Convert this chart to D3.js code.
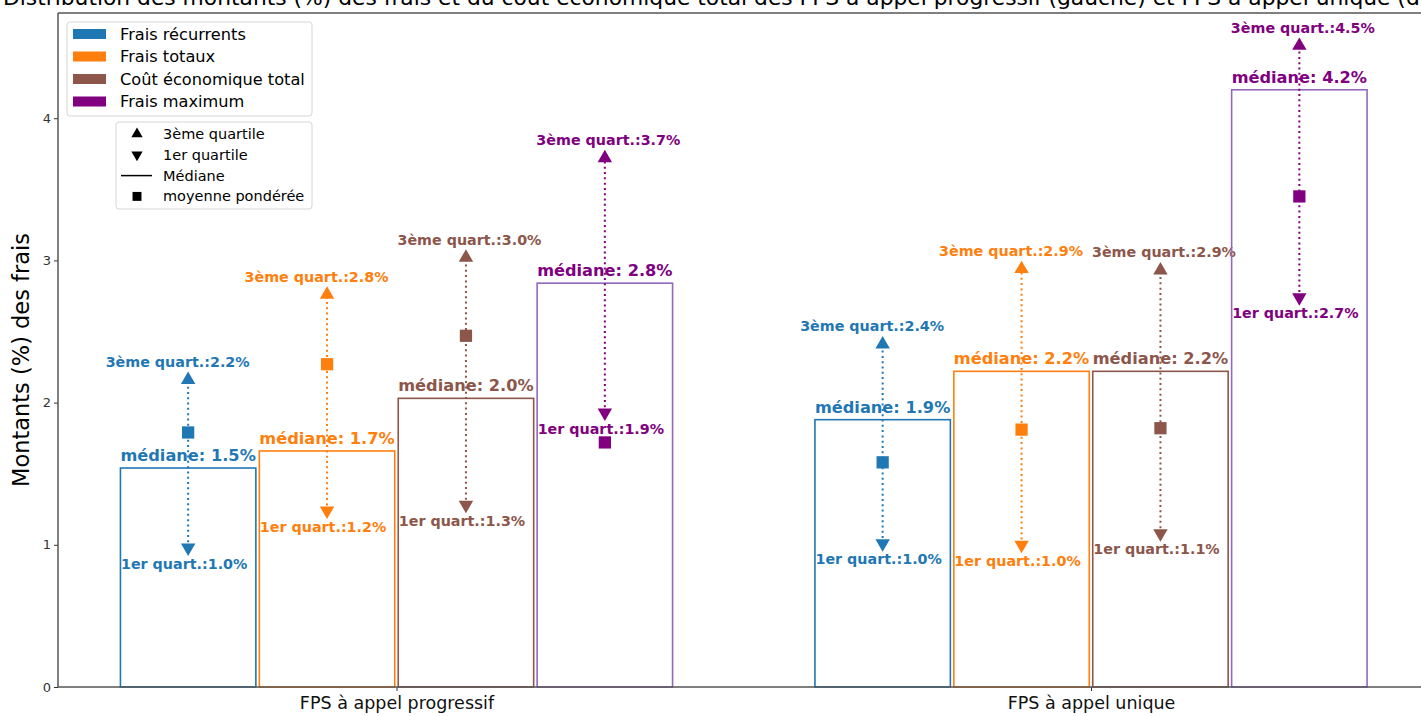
<!DOCTYPE html>
<html>
<head>
<meta charset="utf-8">
<script src="https://cdn.jsdelivr.net/npm/d3@7"></script>
<style>
  body { margin: 0; background: #fff; }
  svg { display: block; font-family: "DejaVu Sans", sans-serif; }
</style>
</head>
<body>
<script>
// data
var groups = ['FPS à appel progressif', 'FPS à appel unique'];
var series = ['Frais récurrents', 'Frais totaux', 'Coût économique total', 'Frais maximum'];
var colors = ['#1f77b4', '#ff7f0e', '#8c564b', '#800080'];
var edgeColors = ['#1f77b4', '#ff7f0e', '#8c564b', '#9467bd'];

// one array per series: [progressif, unique]
var medianes = [[1.54, 1.88], [1.66, 2.22], [2.03, 2.22], [2.84, 4.20]];
var q1 = [[0.98, 1.01], [1.24, 1.00], [1.28, 1.08], [1.93, 2.74]];
var q3 = [[2.16, 2.41], [2.76, 2.94], [3.02, 2.93], [3.72, 4.51]];
var moyennes = [[1.79, 1.58], [2.27, 1.81], [2.47, 1.82], [1.72, 3.45]];
var yTicks = [0, 1, 2, 3, 4];

var W = 1421, H = 716;
var svg = d3.select('body').append('svg').attr('width', W).attr('height', H);

var left = 58, topY = 13, bottom = 687;
var x = d3.scaleLinear().domain([0, 1]).range([396.5, 1091]);
var y = d3.scaleLinear().domain([0, 4.74]).range([bottom, topY]);
var step = 0.2, barW = 0.195;
// the 3rd quartile labels sit a bit left for the first two series
var q3Shift = [-10.5, -10.5, 3.5, 3.5];

// title (too wide for the page, gets cut like the original)
svg.append('text')
  .attr('x', 3).attr('y', 5)
  .attr('font-size', 21.8)
  .text('Distribution des montants (%) des frais et du coût économique total des FPS à appel progressif (gauche) et FPS à appel unique (droite)');

var g = svg.append('g');

series.forEach(function(s, i) {
  groups.forEach(function(gr, j) {
    var off = (i - 1.5) * step;
    var x0 = x(j + off - barW / 2), x1 = x(j + off + barW / 2);
    var cx = x(j + off);

    g.append('rect')
      .attr('x', x0).attr('y', y(medianes[i][j]))
      .attr('width', x1 - x0).attr('height', y(0) - y(medianes[i][j]))
      .attr('fill', 'none').attr('stroke', edgeColors[i]).attr('stroke-width', 1.6);

    g.append('text')
      .attr('x', cx).attr('y', y(medianes[i][j]) - 7)
      .attr('text-anchor', 'middle').attr('font-size', 16.2).attr('font-weight', 'bold')
      .attr('fill', colors[i])
      .text('médiane: ' + medianes[i][j].toFixed(1) + '%');

    g.append('line')
      .attr('x1', cx).attr('x2', cx)
      .attr('y1', y(q1[i][j])).attr('y2', y(q3[i][j]))
      .attr('stroke', colors[i]).attr('stroke-width', 2)
      .attr('stroke-dasharray', '2,3.3');

    g.append('path')
      .attr('transform', 'translate(' + cx + ',' + y(q3[i][j]) + ')')
      .attr('d', d3.symbol(d3.symbolTriangle, 90)())
      .attr('fill', colors[i]);

    g.append('path')
      .attr('transform', 'translate(' + cx + ',' + y(q1[i][j]) + ') rotate(180)')
      .attr('d', d3.symbol(d3.symbolTriangle, 90)())
      .attr('fill', colors[i]);

    g.append('path')
      .attr('transform', 'translate(' + cx + ',' + y(moyennes[i][j]) + ')')
      .attr('d', d3.symbol(d3.symbolSquare, 150)())
      .attr('fill', colors[i]);

    g.append('text')
      .attr('x', cx + q3Shift[i]).attr('y', y(q3[i][j]) - 13)
      .attr('text-anchor', 'middle').attr('font-size', 14.3).attr('font-weight', 'bold')
      .attr('fill', colors[i])
      .text('3ème quart.:' + q3[i][j].toFixed(1) + '%');

    g.append('text')
      .attr('x', cx - 4).attr('y', y(q1[i][j]) + 21)
      .attr('text-anchor', 'middle').attr('font-size', 14.3).attr('font-weight', 'bold')
      .attr('fill', colors[i])
      .text('1er quart.:' + q1[i][j].toFixed(1) + '%');
  });
});

// axes
var yAxis = svg.append('g')
  .attr('transform', 'translate(' + left + ',0)')
  .call(d3.axisLeft(y).tickValues(yTicks).tickFormat(d3.format('d')).tickSize(4).tickSizeOuter(0));
yAxis.select('.domain').remove();
yAxis.selectAll('text').attr('font-size', 13).attr('fill', '#333').attr('font-family', 'DejaVu Sans');
yAxis.selectAll('line').attr('stroke', '#333');

var xAxis = svg.append('g')
  .attr('transform', 'translate(0,' + bottom + ')')
  .call(d3.axisBottom(x).tickValues([0, 1]).tickFormat(function(d) { return groups[d]; }).tickSize(4).tickSizeOuter(0));
xAxis.select('.domain').remove();
xAxis.selectAll('text').attr('font-size', 17.5).attr('fill', '#111').attr('font-family', 'DejaVu Sans').attr('dy', '0.85em');
xAxis.selectAll('line').attr('stroke', '#333');

// spines
svg.append('line').attr('x1', left).attr('x2', left).attr('y1', topY).attr('y2', bottom).attr('stroke', '#555').attr('stroke-width', 1.5);
svg.append('line').attr('x1', left).attr('x2', W).attr('y1', bottom).attr('y2', bottom).attr('stroke', '#555').attr('stroke-width', 1.5);
svg.append('line').attr('x1', left).attr('x2', W).attr('y1', topY).attr('y2', topY).attr('stroke', '#555').attr('stroke-width', 1.5);

svg.append('text')
  .attr('transform', 'translate(29,' + ((233 + 487) / 2) + ') rotate(-90)')
  .attr('text-anchor', 'middle').attr('font-size', 22.5)
  .text('Montants (%) des frais');

// legend 1: series
var leg1 = svg.append('g');
leg1.append('rect').attr('x', 67).attr('y', 22).attr('width', 245).attr('height', 94)
  .attr('rx', 3).attr('fill', '#fff').attr('fill-opacity', 0.8).attr('stroke', '#d6d6d6');
series.forEach(function(s, i) {
  var yy = 34 + i * 22.5;
  leg1.append('rect').attr('x', 73).attr('y', yy - 5).attr('width', 33).attr('height', 10).attr('fill', colors[i]);
  leg1.append('text').attr('x', 120).attr('y', yy).attr('dy', '0.35em').attr('font-size', 16.2).text(s);
});

// legend 2: markers
var markerLabels = ['3ème quartile', '1er quartile', 'Médiane', 'moyenne pondérée'];
var leg2 = svg.append('g');
leg2.append('rect').attr('x', 116).attr('y', 122).attr('width', 196).attr('height', 87)
  .attr('rx', 3).attr('fill', '#fff').attr('fill-opacity', 0.8).attr('stroke', '#d6d6d6');
markerLabels.forEach(function(s, i) {
  var yy = 134 + i * 20.8;
  if (i === 0) {
    leg2.append('path').attr('transform', 'translate(137,' + yy + ')').attr('d', d3.symbol(d3.symbolTriangle, 55)());
  } else if (i === 1) {
    leg2.append('path').attr('transform', 'translate(137,' + yy + ') rotate(180)').attr('d', d3.symbol(d3.symbolTriangle, 55)());
  } else if (i === 2) {
    leg2.append('line').attr('x1', 121).attr('x2', 152).attr('y1', yy).attr('y2', yy).attr('stroke', '#000').attr('stroke-width', 1.5);
  } else {
    leg2.append('path').attr('transform', 'translate(137,' + yy + ')').attr('d', d3.symbol(d3.symbolSquare, 80)());
  }
  leg2.append('text').attr('x', 163).attr('y', yy).attr('dy', '0.35em').attr('font-size', 14.5).text(s);
});
</script>
</body>
</html>
